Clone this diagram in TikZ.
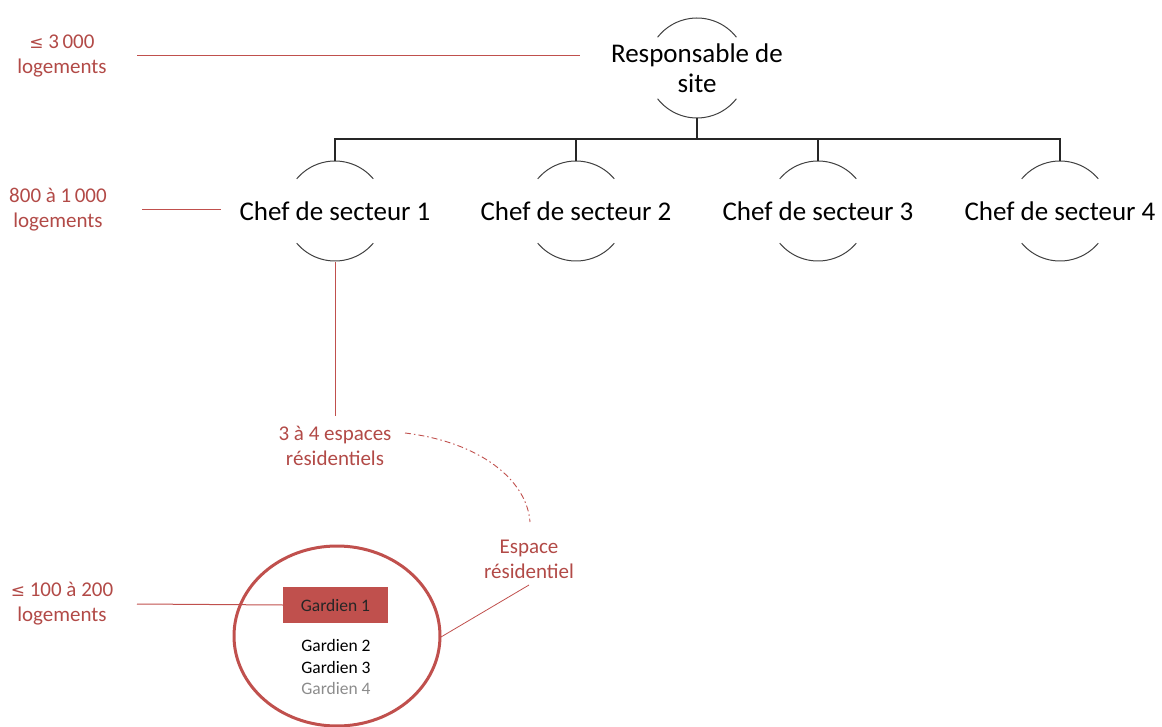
\documentclass[tikz,border=0pt]{standalone}
\usepackage{fontspec}
\setmainfont{Carlito}
\newfontfamily\symfont{DejaVu Sans}
\definecolor{accent}{HTML}{C0504D}
\definecolor{accenttext}{HTML}{B24A47}
\definecolor{linegray}{HTML}{262626}
\definecolor{arcgray}{HTML}{404040}
\begin{document}
\begin{tikzpicture}[x=1pt,y=-1pt,
  bigtext/.style={font=\fontsize{27}{30}\selectfont, text=black, align=center, inner sep=0pt},
  redtext/.style={font=\fontsize{21}{25}\selectfont, text=accenttext, align=center, inner sep=0pt},
  gardtext/.style={font=\fontsize{17.5}{21}\selectfont, inner sep=0pt},
  redline/.style={draw=accent, line width=1pt},
  orgline/.style={draw=linegray, line width=1.3pt},
  halfarc/.style={draw=arcgray, line width=1pt}]
\useasboundingbox (0,0) rectangle (1162,727);

% top node
\node[bigtext] (top) at (697,68) {Responsable de\\site};
\draw[halfarc] (top.center) ++(38:50pt) arc[start angle=38,end angle=142,radius=50pt];
\draw[halfarc] (top.center) ++(218:50pt) arc[start angle=218,end angle=322,radius=50pt];
\coordinate (topb) at (697,118);

% chef nodes
\foreach \i/\x in {1/335,2/576,3/818,4/1060}{
  \node[bigtext] (c\i) at (\x,211) {Chef de secteur \i};
  \coordinate (c\i t) at (\x,161);
  \draw[halfarc] (c\i.center) ++(40:50pt) arc[start angle=40,end angle=140,radius=50pt];
  \draw[halfarc] (c\i.center) ++(220:50pt) arc[start angle=220,end angle=320,radius=50pt];
}
\coordinate (bus) at (697,139);
\draw[orgline] (topb) -- (bus);
\draw[orgline] (c1t) |- (bus) -| (c4t);
\draw[orgline] (c2t) -- (c2t |- bus);
\draw[orgline] (c3t) -- (c3t |- bus);

% left labels
\node[redtext] (l1) at (62,56) {{\symfont\fontsize{17}{20}\selectfont ≤} 3\,000\\logements};
\node[redtext] (l2) at (58,210) {800 à 1\,000\\logements};
\node[redtext] (l3) at (62,604) {{\symfont\fontsize{17}{20}\selectfont ≤} 100 à 200\\logements};
\coordinate (l1e) at (137,56);
\coordinate (l1f) at (580,56);
\draw[redline] (l1e) -- (l1f);
\coordinate (l2e) at (142,210);
\coordinate (l2f) at (221,210);
\draw[redline] (l2e) -- (l2f);

% espaces
\coordinate (c1b) at (335,262);
\node[redtext] (esp) at (335,446) {3 à 4 espaces\\résidentiels};
\draw[redline] (c1b) -- (335,416);
\node[redtext] (er) at (529,559) {Espace\\résidentiel};
\coordinate (dstart) at (405,433);
\coordinate (dend) at (530,522);
\draw[draw=accent, line width=0.9pt, dash pattern=on 6pt off 3pt on 1.5pt off 3pt]
  (dstart) .. controls (480,442) and (527,480) .. (dend);

% big ellipse
\draw[draw=accent, line width=3pt] (337,636) ellipse[x radius=103pt, y radius=90pt];
\coordinate (ellr) at (441,637);
\coordinate (ers) at (529,585);
\draw[redline, line width=0.8pt] (ers) -- (ellr);

\node[gardtext, fill=accent, minimum width=105pt, minimum height=36pt, text=black!85] (g1) at (335.5,605) {Gardien 1};
\node[gardtext, text=black] (g2) at (336,645) {Gardien 2};
\node[gardtext, text=black] (g3) at (336,667) {Gardien 3};
\node[gardtext, text=black!45] (g4) at (336,688) {Gardien 4};
\coordinate (l3e) at (137,604);
\draw[redline] (l3e) -- (g1.west);
\end{tikzpicture}
\end{document}
